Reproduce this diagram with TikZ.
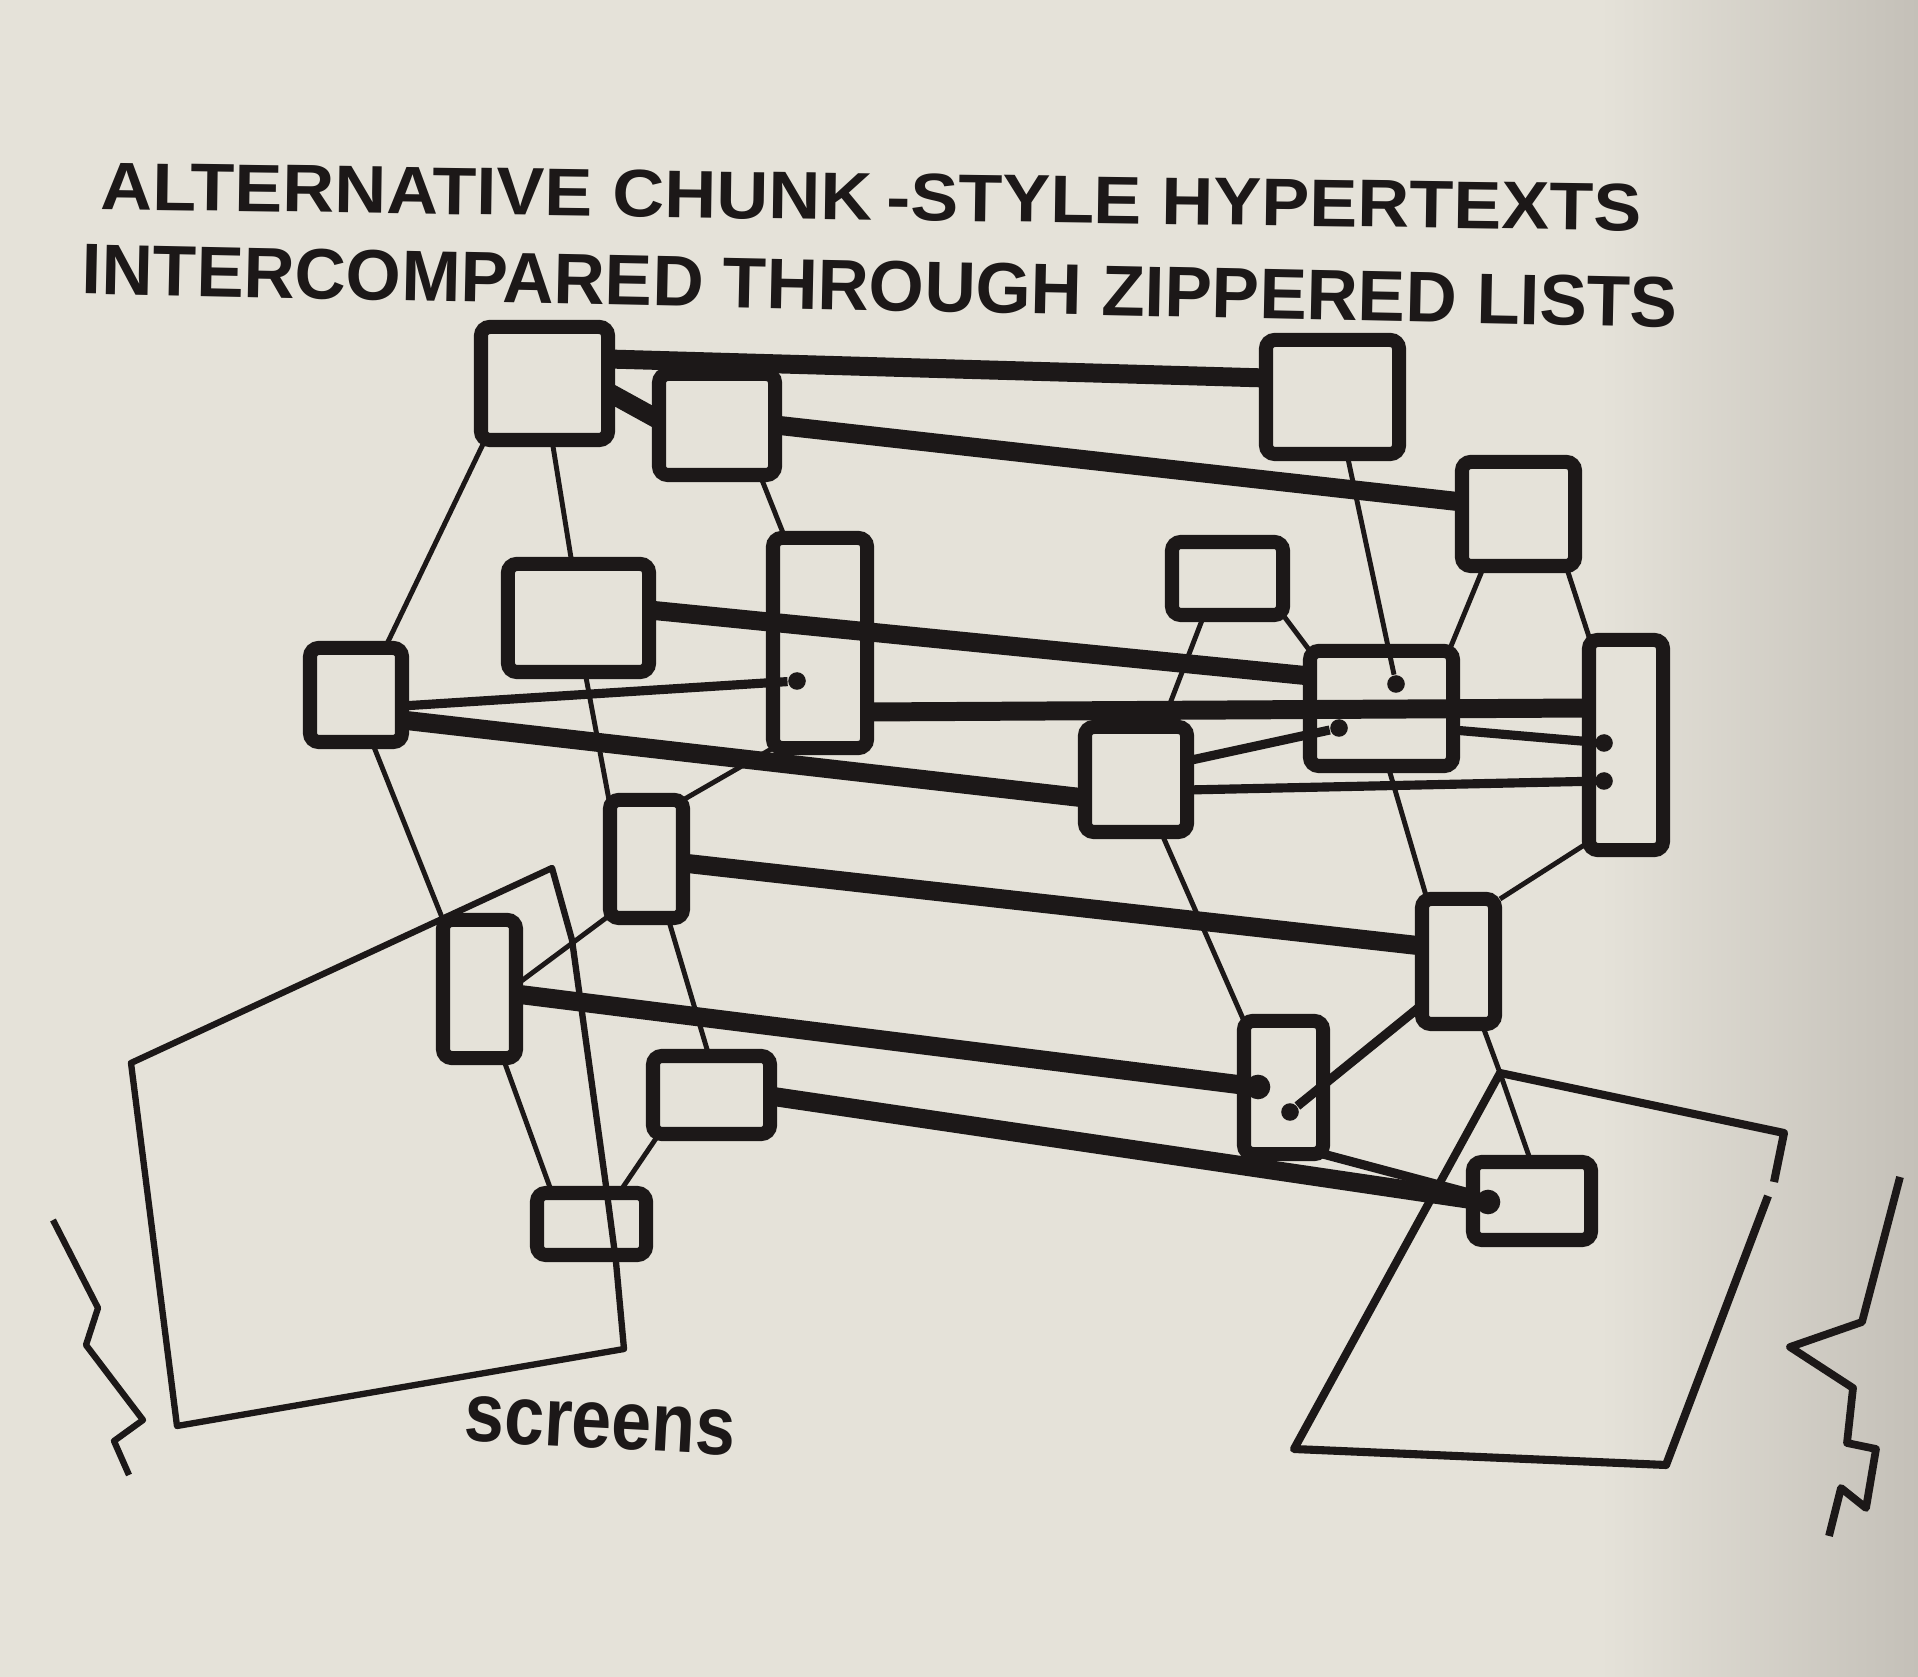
\documentclass[tikz,border=0pt]{standalone}
\usepackage{fontspec}
\usepackage{graphicx}
\setmainfont{Liberation Sans}
\usetikzlibrary{positioning}
\definecolor{paper}{RGB}{229,226,217}
\definecolor{paperdark}{RGB}{196,192,184}
\definecolor{ink}{RGB}{28,24,24}

\begin{document}
\begin{tikzpicture}[%
      x=0.01cm, y=-0.01cm,
      box/.style={rectangle, draw=ink, fill=paper, line width=4pt, rounded corners=2.5pt, inner sep=0pt, outer sep=0pt},
      zip/.style={draw=ink, line width=5.4pt},
      mid/.style={draw=ink, line width=2.6pt},
      link/.style={draw=ink, line width=1.4pt},
      screen/.style={draw=ink, line width=1.8pt, line join=round},
      blob/.style={circle, fill=ink, minimum size=5pt, inner sep=0pt},
      lettering/.style={text=ink, inner sep=0pt, font=\bfseries}
    ]
    \fill [paper] (0,0) rectangle (1918,1677);
    \shade [left color=paper, right color=paperdark] (1600,0) rectangle (1918,1677);

    \node [box] (0) at (544.5,383.5) [minimum width=12.7mm, minimum height=11.3mm] {};
    \node [box] (1) at (717,424.5) [minimum width=11.6mm, minimum height=10.1mm] {};
    \node [box] (2) at (1332.5,397) [minimum width=13.3mm, minimum height=11.4mm] {};
    \node [box] (3) at (1518.5,514) [minimum width=11.3mm, minimum height=10.4mm] {};
    \node [box] (4) at (578.5,618) [minimum width=14.1mm, minimum height=10.8mm] {};
    \node [box] (5) at (820,643) [minimum width=9.4mm, minimum height=21mm] {};
    \node [box] (6) at (1227.5,578.5) [minimum width=11.1mm, minimum height=7.3mm] {};
    \node [box] (7) at (356,695) [minimum width=9.2mm, minimum height=9.4mm] {};
    \node [box] (8) at (1381.5,708.5) [minimum width=14.3mm, minimum height=11.5mm] {};
    \node [box] (9) at (1626,745) [minimum width=7.4mm, minimum height=21mm] {};
    \node [box] (10) at (1136,779.5) [minimum width=10.2mm, minimum height=10.5mm] {};
    \node [box] (11) at (646.5,859) [minimum width=7.3mm, minimum height=11.8mm] {};
    \node [box] (12) at (1458.5,961.5) [minimum width=7.3mm, minimum height=12.5mm] {};
    \node [box] (13) at (479.5,989) [minimum width=7.3mm, minimum height=13.8mm] {};
    \node [box] (14) at (1283.5,1087.5) [minimum width=7.9mm, minimum height=13.3mm] {};
    \node [box] (15) at (711.5,1095) [minimum width=11.7mm, minimum height=7.8mm] {};
    \node [box] (16) at (1532,1201) [minimum width=11.8mm, minimum height=7.8mm] {};
    \node [box] (17) at (591.5,1224) [minimum width=10.9mm, minimum height=6.2mm] {};

    \node [blob] (b0) at (797,681) {};
    \node [blob] (b1) at (1396,684) {};
    \node [blob] (b2) at (1339,728) {};
    \node [blob] (b3) at (1604,743) {};
    \node [blob] (b4) at (1604,781) {};
    \node [blob, minimum size=7pt] (b5) at (1258,1087) {};
    \node [blob] (b6) at (1290,1112) {};
    \node [blob, minimum size=7pt] (b7) at (1488,1202) {};
    \coordinate (hub) at (1500,1073);

    \path [draw] (0.east |- 0,359) edge[zip] (2.west |- 0,378)
    (0.east |- 0,392) edge[zip] (1.west |- 0,420)
    (1.east |- 0,425) edge[zip] (3.west |- 0,502)
    (4.east |- 0,610) edge[zip] (8.west |- 0,676)
    (5.east |- 0,712) edge[zip] (9.west |- 0,708)
    (7.east |- 0,720) edge[zip] (10.west |- 0,798)
    (11.east |- 0,863) edge[zip] (12.west |- 0,946)
    (13.east |- 0,994) edge[zip] (b5)
    (15.east |- 0,1096) edge[zip] (b7);

    \path [draw] (7.east |- 0,706) edge[mid] (b0)
    (10.east |- 0,761) edge[mid] (b2)
    (10.east |- 0,790) edge[mid] (b4)
    (8.east |- 0,730) edge[mid] (b3)
    (14.south east) edge[mid] (16.west |- 0,1194)
    (12.west |- 0,1005) edge[mid] (b6);

    \path [draw] (0.south -| 485,0) edge[link] (7.north -| 385,0)
    (0.south -| 552,0) edge[link] (4.north -| 572,0)
    (1.south -| 760,0) edge[link] (5.north -| 785,0)
    (2.south -| 1347,0) edge[link] (b1)
    (3.south -| 1484,0) edge[link] (8.north -| 1449,0)
    (3.south -| 1566,0) edge[link] (9.north -| 1590,0)
    (6.south -| 1204,0) edge[link] (10.north -| 1161,0)
    (6.south east) edge[link] (8.north west)
    (7.south -| 372,0) edge[link] (13.north west)
    (4.south -| 585,0) edge[link] (11.north -| 609,0)
    (5.south west) edge[link] (11.north east)
    (8.south -| 1388,0) edge[link] (12.north -| 1427,0)
    (9.west |- 0,842) edge[link] (12.north -| 1500,0)
    (10.south -| 1161,0) edge[link] (14.north west)
    (11.west |- 0,915) edge[link] (13.east |- 0,985)
    (11.south -| 668,0) edge[link] (15.north -| 709,0)
    (13.south -| 503,0) edge[link] (17.north -| 552,0)
    (15.south -| 659,0) edge[link] (17.north -| 619,0)
    (12.south -| 1482,0) edge[link] (hub)
    (hub) edge[link] (16.north -| 1531,0);

    \draw [screen] (131,1063) -- (552,868) -- (572,940) -- (606,1186) -- (616,1262) -- (624,1349) -- (177,1426) -- cycle;
    \draw [screen, line width=2.3pt] (hub) -- (1784,1133) -- (1774,1182);
    \draw [screen, line width=2.3pt] (1768,1196) -- (1666,1465) -- (1294,1449) -- (hub);
    \draw [screen] (53,1220) -- (98,1308) -- (86,1345) -- (143,1420) -- (114,1441) -- (129,1475);
    \draw [screen, line width=2.2pt] (1900,1177) -- (1862,1322) -- (1790,1347) -- (1853,1388) -- (1847,1443) -- (1876,1449) -- (1866,1508) -- (1841,1488) -- (1829,1536);

    \node [lettering] (title1) at (871,197) [rotate=-0.8] {\resizebox{15.4cm}{0.47cm}{ALTERNATIVE CHUNK\kern0.2em-STYLE HYPERTEXTS}};
    \node [lettering] (title2) at (880,286) [rotate=-1.2] {\resizebox{15.95cm}{0.5cm}{INTERCOMPARED THROUGH ZIPPERED LISTS}};
    \node [lettering] (screens) at (600,1426) [rotate=-3] {\resizebox{2.71cm}{0.45cm}{screens}};
  \end{tikzpicture}
\end{document}
